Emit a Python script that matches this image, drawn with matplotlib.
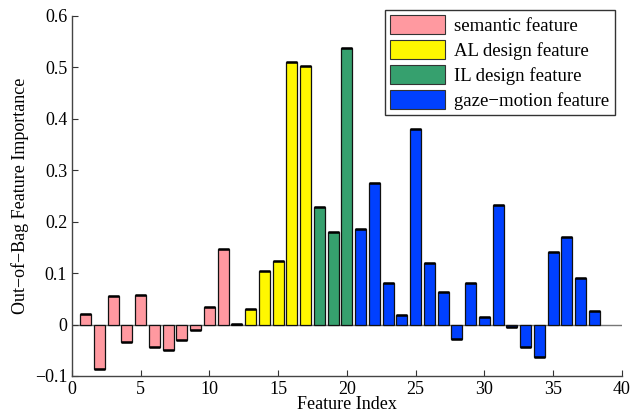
import numpy as np
import matplotlib
matplotlib.use("Agg")
import matplotlib.pyplot as plt
from matplotlib.patches import Patch

plt.rcParams['font.family'] = ['Liberation Serif', 'DejaVu Serif']

# feature importance values, index 1..38
semantic = [0.021, -0.087, 0.056, -0.034, 0.058, -0.043, -0.049, -0.031, -0.010, 0.035, 0.147, 0.001]
al_design = [0.030, 0.105, 0.123, 0.511, 0.502]
il_design = [0.228, 0.180, 0.537]
gaze_motion = [0.186, 0.275, 0.080, 0.019, 0.380, 0.120, 0.064, -0.029, 0.081, 0.014,
               0.232, -0.004, -0.043, -0.063, 0.141, 0.170, 0.091, 0.027]

groups = [
    ("semantic feature", semantic, "#ff99a0"),
    ("AL design feature", al_design, "#fff700"),
    ("IL design feature", il_design, "#36a06e"),
    ("gaze\u2212motion feature", gaze_motion, "#0040ff"),
]

fig = plt.figure(figsize=(6.43, 4.18), dpi=100)
ax = fig.add_axes([0.112, 0.1005, 0.855, 0.8615])

start = 1
handles = []
for name, vals, col in groups:
    idx = np.arange(start, start + len(vals))
    ax.bar(idx, vals, width=0.8, color=col, edgecolor="#111111", linewidth=0.9, zorder=2)
    ax.hlines(vals, idx - 0.4, idx + 0.4, color="black", linewidth=1.8, zorder=3)
    handles.append(Patch(facecolor=col, edgecolor="#333333", linewidth=0.8, label=name))
    start += len(vals)

ax.axhline(0, color="#777777", linewidth=1, zorder=1)

ax.set_xlim(0, 40)
ax.set_ylim(-0.1, 0.6)
ax.set_xticks(range(0, 41, 5))
ax.set_yticks(np.arange(-0.1, 0.61, 0.1))
ax.set_yticklabels(["\u22120.1", "0", "0.1", "0.2", "0.3", "0.4", "0.5", "0.6"])
ax.tick_params(direction="in", length=4, labelsize=13, colors="#333333", labelcolor="black")
for s in ["top", "right"]:
    ax.spines[s].set_visible(False)
for s in ["left", "bottom"]:
    ax.spines[s].set_color("#444444")
    ax.spines[s].set_linewidth(1)

ax.set_xlabel("Feature Index", fontsize=13, labelpad=-1)
ax.set_ylabel("Out\u2212of\u2212Bag Feature Importance", fontsize=13, labelpad=4)

leg = ax.legend(handles=handles, loc="upper right", bbox_to_anchor=(0.987, 1.017),
                borderaxespad=0, fontsize=13.5, frameon=True, fancybox=False,
                handlelength=2.9, handleheight=1.15, labelspacing=0.28, borderpad=0.3,
                handletextpad=0.5)
leg.get_frame().set_edgecolor("black")
leg.get_frame().set_linewidth(1)

fig.savefig("out.png", dpi=100)
